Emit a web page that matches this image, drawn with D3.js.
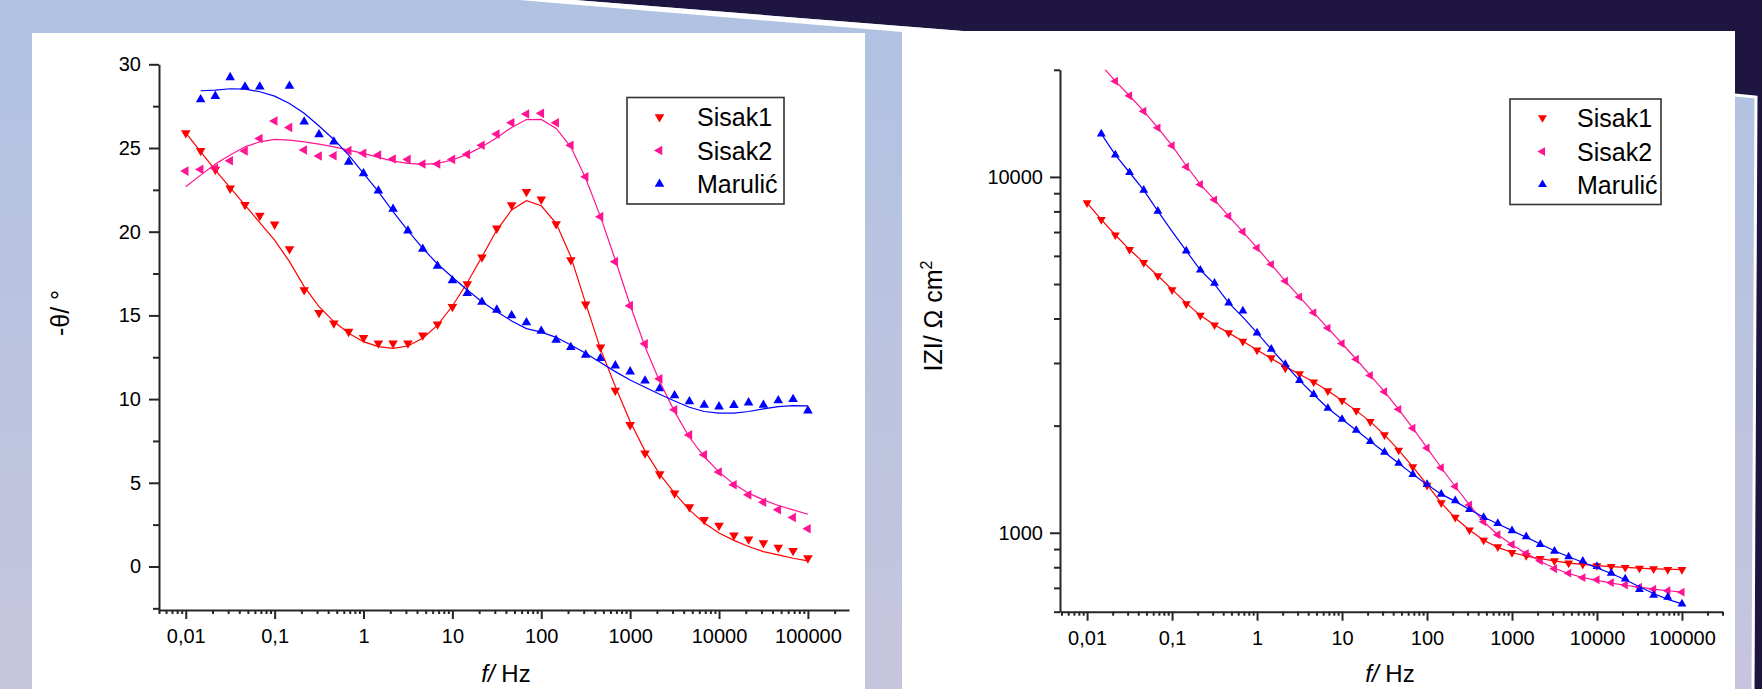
<!DOCTYPE html>
<html><head><meta charset="utf-8">
<script src="https://cdn.jsdelivr.net/npm/d3@7"></script>
<style>html,body{margin:0;padding:0;overflow:hidden;background:#fff}</style>
</head><body>
<svg id="c" width="1762" height="689"></svg>
<script>
// ---------------- data ----------------
const frequencies = [0.01,0.0147,0.0215,0.0316,0.0464,0.0681,0.1,0.147,0.215,0.316,0.464,0.681,1,1.47,2.15,3.16,4.64,6.81,10,14.7,21.5,31.6,46.4,68.1,100,147,215,316,464,681,1000,1470,2150,3160,4640,6810,10000,14700,21500,31600,46400,68100,100000];
const seriesNames = ["Sisak1","Sisak2","Marulić"];

// phase angle -θ (degrees)
const sisak1Phase = [25.9,24.84,23.72,22.59,21.61,20.96,20.44,18.97,16.52,15.16,14.53,14.03,13.67,13.34,13.34,13.34,13.81,14.47,15.52,16.88,18.47,20.2,21.59,22.39,21.93,20.46,18.31,15.66,13.1,10.51,8.46,6.77,5.52,4.38,3.55,2.79,2.45,1.87,1.63,1.4,1.13,0.94,0.5];
const sisak1PhaseFit = [25.91,24.78,23.68,22.63,21.59,20.54,19.5,18.21,16.72,15.52,14.63,13.93,13.43,13.13,13.03,13.17,13.63,14.42,15.56,16.95,18.5,20.1,21.3,21.85,21.55,20.5,18.51,15.72,13.0,10.75,8.66,6.89,5.52,4.38,3.38,2.59,2.0,1.56,1.19,0.89,0.69,0.49,0.34];
const sisak2Phase = [23.62,23.72,23.78,24.24,24.82,25.57,26.61,26.23,24.88,24.52,24.54,24.84,24.68,24.58,24.34,24.32,24.04,24.04,24.32,24.62,25.16,25.83,26.51,27.03,27.07,26.51,25.16,23.28,20.9,18.21,15.58,13.3,11.21,9.36,7.86,6.67,5.64,4.88,4.28,3.84,3.39,2.93,2.25];
const sisak2PhaseFit = [22.69,23.38,24.04,24.58,25.07,25.37,25.51,25.47,25.37,25.23,25.07,24.87,24.68,24.44,24.22,24.08,24.02,24.08,24.28,24.62,25.07,25.61,26.23,26.7,26.71,26.17,25.07,23.19,20.9,18.31,15.62,13.13,11.05,9.25,7.72,6.57,5.64,4.92,4.38,3.98,3.64,3.38,3.12];
const maruPhase = [null,27.9,28.1,29.22,28.66,28.66,null,28.7,26.57,25.81,25.37,24.16,23.48,22.45,21.36,20.06,18.97,17.95,17.08,16.32,15.8,15.33,14.99,14.57,14.07,13.53,13.1,12.64,12.44,12.0,11.64,11.09,10.63,10.21,9.85,9.65,9.55,9.64,9.79,9.65,9.91,9.99,9.31];
const maruPhaseFit = [null,28.42,28.46,28.54,28.52,28.36,28.1,27.66,27.07,26.31,25.51,24.58,23.48,22.39,21.2,20.06,19.01,18.07,17.28,16.52,15.82,15.22,14.67,14.21,14.0,13.69,13.23,12.74,12.18,11.64,11.14,10.71,10.29,9.89,9.51,9.26,9.16,9.16,9.26,9.42,9.55,9.61,9.59];

// impedance modulus |Z| (Ω cm²)
const sisak1Z = [8453,7590,6868,6250,5745,5275,4815,4396,4083,3836,3645,3452,3262,3100,2903,2798,2653,2506,2354,2204,2053,1884,1706,1532,1359,1213,1105,1018,953,913,880,863,846,834,822,815,808,804,799,795,792,788,788];
const sisak1ZFit = [8453,7590,6868,6250,5745,5275,4830,4420,4083,3836,3645,3452,3262,3090,2930,2790,2653,2506,2354,2204,2053,1884,1706,1532,1365,1213,1100,1018,953,910,880,860,846,834,822,815,808,803,799,795,792,790,788];
const sisak2Z = [22700,20600,18580,16910,15300,13740,12240,10670,9527,8623,7762,7011,6317,5679,5097,4601,4155,3760,3403,3073,2768,2491,2222,1967,1731,1523,1349,1197,1074,987,927,875,834,792,770,748,738,724,713,703,694,687,681];
const sisak2ZFit = [null,20600,18580,16910,15300,13740,12240,10750,9527,8623,7762,7011,6317,5679,5097,4601,4155,3760,3403,3073,2768,2491,2222,1967,1731,1523,1349,1197,1074,987,925,875,832,795,768,748,735,722,712,703,694,687,681];
const maruZ = [null,13210,11530,10290,9184,8012,null,6196,5475,5027,4425,4201,3645,3282,2971,2681,2447,2238,2084,1941,1807,1684,1568,1459,1367,1284,1231,1162,1105,1062,1014,975,927,888,856,832,804,770,742,693,668,659,631];
const maruZFit = [null,13210,11530,10290,9184,8012,7031,6196,5475,5000,4425,4037,3645,3282,2971,2681,2447,2238,2084,1941,1807,1684,1568,1459,1367,1284,1225,1162,1105,1060,1014,972,930,890,856,826,797,768,738,705,675,650,631];

// ticks
const xTickValues = [0.01,0.1,1,10,100,1000,10000,100000];
const xTickLabels = ["0,01","0,1","1","10","100","1000","10000","100000"];
const phaseTickValues = [0,5,10,15,20,25,30];
const phaseTickLabels = ["0","5","10","15","20","25","30"];
const phaseMinorTicks = [-2.5,2.5,7.5,12.5,17.5,22.5,27.5];
const zTickValues = [1000,10000];
const zTickLabels = ["1000","10000"];
const zMinorTicks = [600,700,800,900,2000,3000,4000,5000,6000,7000,8000,9000,20000];

// ---------------- styles ----------------
const FONT = "'Liberation Sans', Arial, sans-serif";
const colors = {"Sisak1":"#ff0000","Sisak2":"#ff1493","Marulić":"#0000ff"};
const shapes = {"Sisak1":180,"Sisak2":-90,"Marulić":0};

const svg = d3.select("#c");
const defs = svg.append("defs");
const grad = defs.append("linearGradient").attr("id","bg")
  .attr("gradientUnits","userSpaceOnUse").attr("x1",0).attr("y1",0).attr("x2",0).attr("y2",689);
grad.append("stop").attr("offset","0%").attr("stop-color","#afc2e2");
grad.append("stop").attr("offset","100%").attr("stop-color","#c7c5dd");

// background slide decoration
svg.append("rect").attr("width",1762).attr("height",689).attr("fill","url(#bg)");
svg.append("polygon").attr("points","575,0 1762,0 1762,689 1735,689 1735,31 963,31").attr("fill","#1e1640");
svg.append("polygon").attr("points","519,0 575,0 963,31 902,32").attr("fill","#ffffff");
svg.append("polygon").attr("points","1735,95 1757,97 1754,689 1735,689").attr("fill","url(#bg)");
svg.append("polyline").attr("points","1735,95 1756,97 1753,689").attr("fill","none").attr("stroke","#ffffff").attr("stroke-width",3);
svg.append("rect").attr("x",32).attr("y",33).attr("width",833).attr("height",656).attr("fill","#fff");
svg.append("rect").attr("x",902).attr("y",31).attr("width",833).attr("height",658).attr("fill","#fff");

function minorLogTicks(dom){
  const out=[];
  for(let e=-4;e<=6;e++) for(let m=2;m<=9;m++){const v=m*Math.pow(10,e); if(v>=dom[0]&&v<=dom[1]) out.push(v);}
  return out;
}

function styleAxis(g){
  g.selectAll("path,line").attr("stroke","#262626").attr("stroke-width",2);
  g.selectAll("text").attr("fill","#000").style("font-family",FONT).style("font-size","20px");
}

function panel(opt){
  const g = svg.append("g");
  const x = d3.scaleLog().domain(opt.xDomain).range(opt.xRange);
  const y = (opt.yLog ? d3.scaleLog() : d3.scaleLinear()).domain(opt.yDomain).range(opt.yRange);
  const clipId = "clip"+opt.id;
  defs.append("clipPath").attr("id",clipId).append("rect")
    .attr("x",opt.xRange[0]).attr("y",opt.yRange[1])
    .attr("width",opt.xRange[1]-opt.xRange[0]).attr("height",opt.yRange[0]-opt.yRange[1]);

  // axes
  const gx = g.append("g").attr("transform",`translate(0,${opt.yRange[0]})`);
  gx.append("g").call(d3.axisBottom(x).tickValues(minorLogTicks(opt.xDomain)).tickFormat("").tickSize(4).tickSizeOuter(0))
    .call(a=>a.select(".domain").remove());
  gx.append("g").call(d3.axisBottom(x).tickValues(xTickValues).tickFormat((d,i)=>xTickLabels[i]).tickSize(9).tickSizeOuter(0).tickPadding(10));
  styleAxis(gx);

  const gy = g.append("g").attr("transform",`translate(${opt.xRange[0]},0)`);
  gy.append("g").call(d3.axisLeft(y).tickValues(opt.yMinor).tickFormat("").tickSize(6).tickSizeOuter(0))
    .call(a=>a.select(".domain").remove());
  gy.append("g").call(d3.axisLeft(y).tickValues(opt.yTicks).tickFormat((d,i)=>opt.yLabels[i]).tickSize(10).tickSizeOuter(0).tickPadding(opt.yPad));
  styleAxis(gy);

  // series
  const plot = g.append("g").attr("clip-path",`url(#${clipId})`);
  const line = d3.line().defined(d=>d.v!=null).x(d=>x(d.f)).y(d=>y(d.v));
  opt.series.forEach(s=>{
    const pts = frequencies.map((f,i)=>({f, v:s.data[i]}))
      .filter(d=>d.v!=null && d.v>=opt.yDomain[0] && d.v<=opt.yDomain[1]);
    plot.append("g").selectAll("path").data(pts).join("path")
      .attr("d", d3.symbol().type(d3.symbolTriangle).size(opt.markSize)())
      .attr("transform", d=>`translate(${x(d.f)},${y(d.v)}) rotate(${shapes[s.name]})`)
      .attr("fill", colors[s.name]);
  });
  opt.series.forEach(s=>{
    const fpts = frequencies.map((f,i)=>({f, v:s.fit[i]}));
    plot.append("path").datum(fpts).attr("d",line)
      .attr("fill","none").attr("stroke",colors[s.name]).attr("stroke-width",1.2);
  });

  // legend
  const L = opt.legend;
  g.append("rect").attr("x",L.x).attr("y",L.y).attr("width",L.w).attr("height",L.h)
    .attr("fill","#fff").attr("stroke","#333").attr("stroke-width",1.6);
  seriesNames.forEach((n,i)=>{
    const cy = L.rows[i];
    g.append("path").attr("d", d3.symbol().type(d3.symbolTriangle).size(opt.markSize)())
      .attr("transform",`translate(${L.mx},${cy}) rotate(${shapes[n]})`).attr("fill",colors[n]);
    g.append("text").attr("x",L.tx).attr("y",cy+9).text(n)
      .style("font-family",FONT).style("font-size","25px").attr("fill","#000");
  });

  // x title
  const xt = g.append("text").attr("x",opt.xTitle[0]).attr("y",opt.xTitle[1]).attr("text-anchor","middle")
    .style("font-family",FONT).style("font-size","24px").attr("fill","#000");
  xt.append("tspan").style("font-style","italic").text("f/");
  xt.append("tspan").text(" Hz");

  // y title
  const yt = g.append("text").attr("transform",`translate(${opt.yTitle[0]},${opt.yTitle[1]}) rotate(-90)`)
    .attr("text-anchor","middle").style("font-family",FONT).style("font-size","25px").attr("fill","#000");
  opt.yTitleParts.forEach(p=>{
    const t = yt.append("tspan").text(p.t);
    if(p.sup) t.attr("dy",-10).style("font-size","16px");
  });
}

panel({
  id:"phase", xDomain:[0.005,290000], xRange:[159,849],
  yLog:false, yDomain:[-2.6,30], yRange:[610,64.3],
  yTicks:phaseTickValues, yLabels:phaseTickLabels, yMinor:phaseMinorTicks, yPad:8,
  markSize:40,
  series:[
    {name:"Sisak1", data:sisak1Phase, fit:sisak1PhaseFit},
    {name:"Sisak2", data:sisak2Phase, fit:sisak2PhaseFit},
    {name:"Marulić", data:maruPhase, fit:maruPhaseFit}],
  legend:{x:627,y:97.5,w:157,h:106.5,mx:659.5,tx:697,rows:[117,150.5,184]},
  xTitle:[506,682], yTitle:[69,313],
  yTitleParts:[{t:"-θ/ °"}]
});

panel({
  id:"mod", xDomain:[0.0048,300000], xRange:[1060,1722.5],
  yLog:true, yDomain:[600,20000], yRange:[611.7,69.8],
  yTicks:zTickValues, yLabels:zTickLabels, yMinor:zMinorTicks, yPad:7,
  markSize:34,
  series:[
    {name:"Sisak1", data:sisak1Z, fit:sisak1ZFit},
    {name:"Sisak2", data:sisak2Z, fit:sisak2ZFit},
    {name:"Marulić", data:maruZ, fit:maruZFit}],
  legend:{x:1510,y:99,w:151,h:105.5,mx:1542.5,tx:1577,rows:[117.7,151.6,184.5]},
  xTitle:[1390,682], yTitle:[942,316],
  yTitleParts:[{t:"IZI/ Ω cm"},{t:"2",sup:true}]
});
</script>
</body></html>
